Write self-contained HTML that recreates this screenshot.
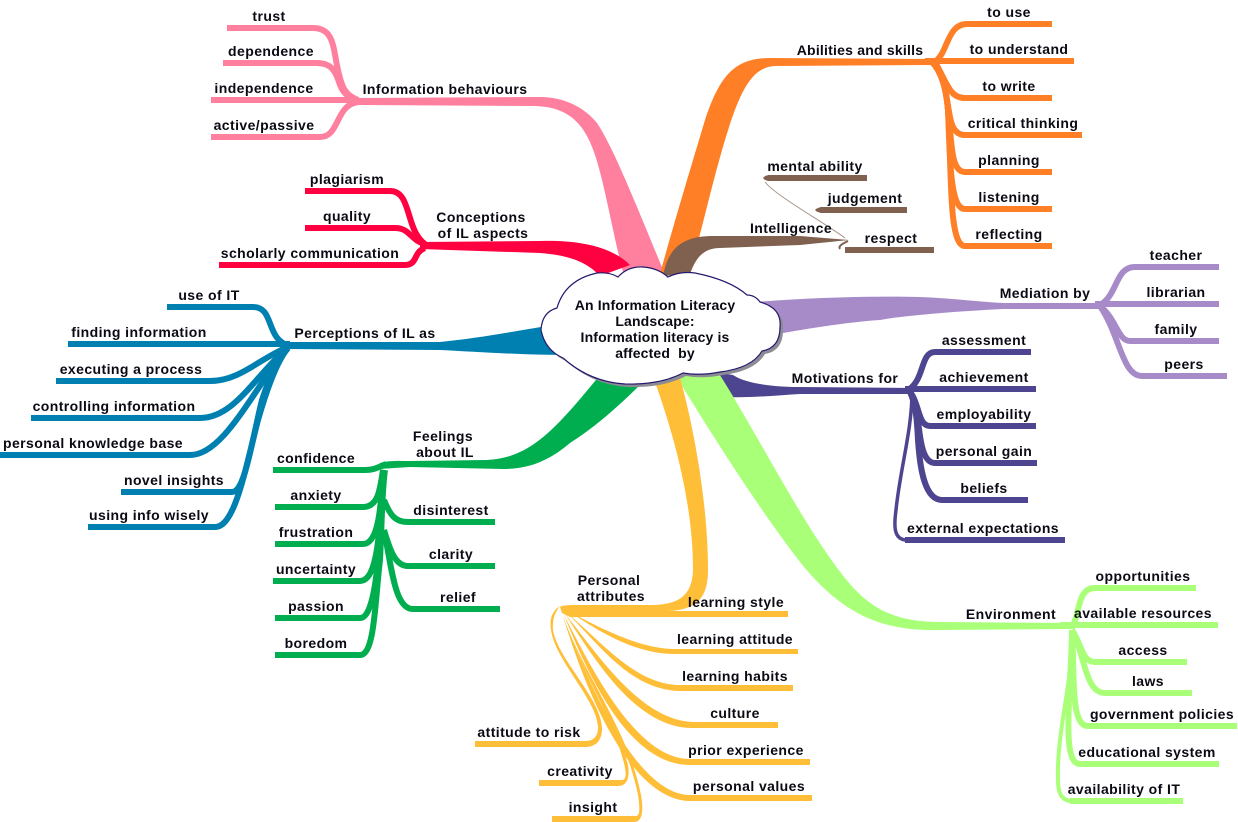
<!DOCTYPE html>
<html><head><meta charset="utf-8"><title>Information Literacy Landscape</title>
<style>
html,body{margin:0;padding:0;background:#fff;width:1238px;height:822px;overflow:hidden}
svg{display:block}
text{font-family:"Liberation Sans",sans-serif;font-weight:bold;font-size:14px;letter-spacing:.42px;fill:#0a0a14;text-anchor:middle}
path.l{fill:none;stroke-width:6;stroke-linecap:butt}
path.t{fill:none;stroke-width:3.5}
text.c{letter-spacing:.15px}
</style></head><body>
<svg width="1238" height="822" viewBox="0 0 1238 822" xmlns="http://www.w3.org/2000/svg">
<!-- pink -->
<g stroke="#ff7f9e">
<path class="l" d="M227 28H313C335 28 333 50 338 70C342 88 345 95 358 100"/>
<path class="l" d="M223 63H317C332 63 336 72 340 85C344 95 350 98 358 100"/>
<path class="l" d="M211 100H358"/>
<path class="l" d="M211 137H320C340 137 335 105 358 102"/>
</g>
<path fill="#ff7f9e" d="M350 98L540 97C565 97 585 108 597 123C615 150 640 215 664 272L623 272C612 230 605 185 595 155C585 125 570 107 535 106L350 105Z"/>
<!-- orange -->
<g stroke="#ff7f27">
<path class="l" d="M1052 24H967C948 24 948 50 937 60"/>
<path class="l" d="M1074 61H925"/>
<path class="l" d="M1052 98H965C950 98 948 85 935 62"/>
<path class="l" d="M1082 135H965C950 135 950 115 947 100C945 85 940 70 932 62"/>
<path class="l" d="M1052 172H965C950 172 952 140 948 110C946 85 940 70 932 62"/>
<path class="l" d="M1052 209H965C950 209 950 160 948 110C946 85 940 70 932 62"/>
<path class="l" d="M1052 246H965C948 246 952 170 948 110C946 85 940 70 932 62"/>
</g>
<path fill="#ff7f27" d="M660 274C672 230 690 170 705 120C720 75 735 58 770 58L930 59L930 65L775 66C752 67 740 90 725 140C710 190 700 240 688 276Z"/>
<!-- brown -->
<path fill="#80604f" d="M663 276C668 250 680 237 710 236L800 236L849 240L800 245L720 248C702 248 695 260 690 274Z"/>
<g stroke="#80604f">
<path class="l" d="M867 178H768"/>
<path class="l" d="M907 210H820"/>
<path class="l" d="M934 250H845"/>
<path fill="none" stroke-width="2" d="M848 241C842 244 838 246 840 249"/>
</g>
<path fill="none" stroke="#a89488" stroke-width="1" d="M765 182C775 195 820 220 845 238"/>
<path fill="#80604f" d="M763 178Q765 175 770 175V181Q765 181 763 178ZM815 210Q817 207 825 207V213Q817 213 815 210Z"/>
<!-- purple -->
<g stroke="#a78bc9">
<path class="l" d="M1219 267H1135C1115 267 1118 295 1100 305"/>
<path class="l" d="M1219 304H1095"/>
<path class="l" d="M1219 341H1130C1118 341 1117 320 1100 306"/>
<path class="l" d="M1227 376H1142C1122 376 1120 335 1100 306"/>
</g>
<path fill="#a78bc9" d="M755 302C820 297 880 296 920 297C950 298 980 302 1003 303L1105 303V309L1003 309C960 311 900 316 880 320C850 322 810 328 778 334Z"/>
<!-- navy -->
<g stroke="#4d4590">
<path class="l" d="M1031 352H935C920 352 925 380 908 390"/>
<path class="l" d="M1036 389H905"/>
<path class="l" d="M1036 426H930C918 426 920 405 910 392"/>
<path class="l" d="M1037 463H935C920 463 920 430 917 415C916 405 915 398 910 392"/>
<path class="l" d="M1028 500H942C925 500 920 470 918 440C917 420 916 405 910 392"/>
<path class="l" d="M1065 540H905"/>
<path class="t" d="M907 540C893 540 894 525 896 510C900 470 912 430 912 392"/>
</g>
<path fill="#4d4590" d="M705 370L733 375C745 383 770 387 800 387L912 388V394L800 394C770 396 745 398 727 397C720 392 712 385 705 370Z"/>
<!-- light green -->
<g stroke="#aaff78">
<path class="l" d="M1196 588H1095C1078 588 1080 610 1073 626"/>
<path class="l" d="M1218 625H1060"/>
<path class="l" d="M1187 662H1095C1082 662 1082 645 1072 630"/>
<path class="l" d="M1192 693H1105C1085 693 1085 655 1072 630"/>
<path class="l" d="M1237 726H1088C1073 726 1074 690 1073 660C1073 650 1072 640 1072 630"/>
<path class="l" d="M1219 764H1080C1065 764 1068 720 1070 680C1071 660 1072 645 1072 630"/>
<path class="l" d="M1183 801H1070"/>
<path fill="none" stroke-width="4" d="M1072 801C1055 801 1058 780 1058 765C1060 720 1072 680 1073 630"/>
</g>
<path fill="#aaff78" d="M676 376L718 372C755 430 795 510 835 565C862 602 885 622 940 622L1075 623V629L940 630C880 632 840 612 800 562C760 510 715 440 676 376Z"/>
<!-- yellow -->
<g fill="#ffbe37">
<path d="M655 382L680 378C692 420 708 500 708 570C708 600 695 612 660 611L788 611V617H650L570 617L562 613L560 607C562 605 570 605 580 605L650 605C680 605 692 595 693 570C693 500 672 430 655 382Z"/>
<path d="M568 611C600 628 640 649 675 649H798V654H675C635 654 600 632 568 611Z"/>
<path d="M566 612C600 640 635 685 680 685H793V691H680C630 690 600 645 566 612Z"/>
<path d="M565 614C595 650 640 722 695 722H778V728H690C635 726 595 660 565 614Z"/>
<path d="M564 615C590 665 635 759 690 759H810V765H690C630 765 590 680 564 615Z"/>
<path d="M563 616C585 675 635 795 690 795H812V801H690C630 800 585 690 563 616Z"/>
<path d="M475 741H585C595 741 598 735 598 727C597 700 555 660 551 630C549 618 553 610 560 606C555 612 552 620 553 630C558 660 603 700 602 730C601 743 594 747 585 747H475Z"/>
<path d="M539 780H622C627 780 626 772 624 763C610 710 580 670 563 617C580 670 614 710 628 765C630 778 627 786 618 786H539Z"/>
<path d="M552 816H636C640 816 640 808 638 795C625 730 585 680 563 617C587 680 628 730 641 795C644 812 642 822 634 822H552Z"/>
</g>
<!-- green -->
<g stroke="#00ae50">
<path class="l" d="M273 470H365C375 470 378 467 386 464"/>
<path class="l" d="M275 507H363C378 507 380 490 383 470"/>
<path class="l" d="M275 544H363C378 544 381 510 383 470"/>
<path class="l" d="M273 581H360C378 581 380 530 383 470"/>
<path class="l" d="M275 618H360C375 618 380 560 383 470"/>
<path class="l" d="M275 655H360C375 655 375 600 380 560C382 520 382 490 385 470"/>
<path class="l" d="M495 522H408C395 522 390 515 384 500"/>
<path class="l" d="M495 566H408C395 566 390 550 384 530"/>
<path class="l" d="M500 609H413C395 609 392 570 384 530"/>
</g>
<path fill="#00ae50" d="M380 463C390 460 400 461 410 461L487 460C530 458 555 430 600 375L645 380C610 415 590 430 570 443C550 460 530 469 503 469L410 467L380 469Z"/>
<!-- blue -->
<g stroke="#0080b0">
<path class="l" d="M167 307H253C275 307 265 340 290 346"/>
<path class="l" d="M68 344H290"/>
<path class="l" d="M56 381H210C240 381 260 358 288 347"/>
<path class="l" d="M31 418H200C235 418 255 375 288 348"/>
<path class="l" d="M0 455H190C225 455 255 385 288 348"/>
<path class="l" d="M121 492H232C245 492 252 440 262 400C270 375 278 360 288 348"/>
<path class="l" d="M88 527H215C235 527 245 470 258 420C268 385 278 360 288 348"/>
</g>
<path fill="#0080b0" d="M285 342L440 342C480 338 510 332 565 323L575 355C520 355 480 352 440 350L285 349Z"/>
<!-- red -->
<g stroke="#ff0040">
<path class="l" d="M305 191H390C412 191 405 230 425 244"/>
<path class="l" d="M305 228H395C410 228 410 240 425 244"/>
<path class="l" d="M219 265H405C418 265 413 252 425 248"/>
</g>
<path fill="#ff0040" d="M420 242L540 241C575 240 610 245 630 265L600 276C585 260 565 255 540 253L420 249Z"/>
<!-- cloud -->
<path fill="#8c8c94" transform="translate(3,3)" d="M618 277Q628 266 643 267Q658 268 668 277Q680 271 695 273Q730 280 747 295Q755 295 760 302Q782 308 780 327Q780 348 762 351Q752 368 720 372Q700 376 683 373Q660 385 625 384Q590 382 563 358Q545 350 541 330Q542 312 557 308Q565 280 597 273Q610 272 618 277Z"/>
<path fill="#fff" stroke="#241a6e" stroke-width="1.2" d="M618 277Q628 266 643 267Q658 268 668 277Q680 271 695 273Q730 280 747 295Q755 295 760 302Q782 308 780 327Q780 348 762 351Q752 368 720 372Q700 376 683 373Q660 385 625 384Q590 382 563 358Q545 350 541 330Q542 312 557 308Q565 280 597 273Q610 272 618 277Z"/>
<text class="c" x="655" y="310">An Information Literacy</text>
<text class="c" x="655" y="326">Landscape:</text>
<text class="c" x="655" y="342">Information literacy is</text>
<text class="c" x="655" y="358">affected&#160; by</text>
<!-- labels -->
<text x="269" y="21">trust</text><text x="271" y="56">dependence</text><text x="264" y="93">independence</text><text x="264" y="130">active/passive</text><text x="445" y="94">Information behaviours</text>
<text x="347" y="184">plagiarism</text><text x="347" y="221">quality</text><text x="310" y="258">scholarly communication</text><text x="481" y="222">Conceptions</text><text x="483" y="238">of IL aspects</text>
<text x="209" y="300">use of IT</text><text x="139" y="337">finding information</text><text x="131" y="374">executing a process</text><text x="114" y="411">controlling information</text><text x="93" y="448">personal knowledge base</text><text x="174" y="485">novel insights</text><text x="149" y="520">using info wisely</text><text x="365" y="338">Perceptions of IL as</text>
<text x="316" y="463">confidence</text><text x="316" y="500">anxiety</text><text x="316" y="537">frustration</text><text x="316" y="574">uncertainty</text><text x="316" y="611">passion</text><text x="316" y="648">boredom</text><text x="451" y="515">disinterest</text><text x="451" y="559">clarity</text><text x="458" y="602">relief</text><text x="443" y="441">Feelings</text><text x="445" y="457">about IL</text>
<text x="609" y="585">Personal</text><text x="611" y="601">attributes</text><text x="736" y="607">learning style</text><text x="735" y="644">learning attitude</text><text x="735" y="681">learning habits</text><text x="735" y="718">culture</text><text x="746" y="755">prior experience</text><text x="749" y="791">personal values</text><text x="529" y="737">attitude to risk</text><text x="580" y="776">creativity</text><text x="593" y="812">insight</text>
<text x="860" y="55" style="letter-spacing:.22px">Abilities and skills</text><text x="1009" y="17">to use</text><text x="1019" y="54">to understand</text><text x="1009" y="91">to write</text><text x="1023" y="128">critical thinking</text><text x="1009" y="165">planning</text><text x="1009" y="202">listening</text><text x="1009" y="239">reflecting</text>
<text x="815" y="171">mental ability</text><text x="865" y="203">judgement</text><text x="891" y="243">respect</text><text x="791" y="233">Intelligence</text>
<text x="1045" y="298">Mediation by</text><text x="1176" y="260">teacher</text><text x="1176" y="297">librarian</text><text x="1176" y="334">family</text><text x="1184" y="369">peers</text>
<text x="845" y="383">Motivations for</text><text x="984" y="345">assessment</text><text x="984" y="382">achievement</text><text x="984" y="419">employability</text><text x="984" y="456">personal gain</text><text x="984" y="493">beliefs</text><text x="983" y="533">external expectations</text>
<text x="1011" y="619">Environment</text><text x="1143" y="581">opportunities</text><text x="1143" y="618">available resources</text><text x="1143" y="655">access</text><text x="1148" y="686">laws</text><text x="1162" y="719">government policies</text><text x="1147" y="757">educational system</text><text x="1124" y="794">availability of IT</text>
</svg>
</body></html>
